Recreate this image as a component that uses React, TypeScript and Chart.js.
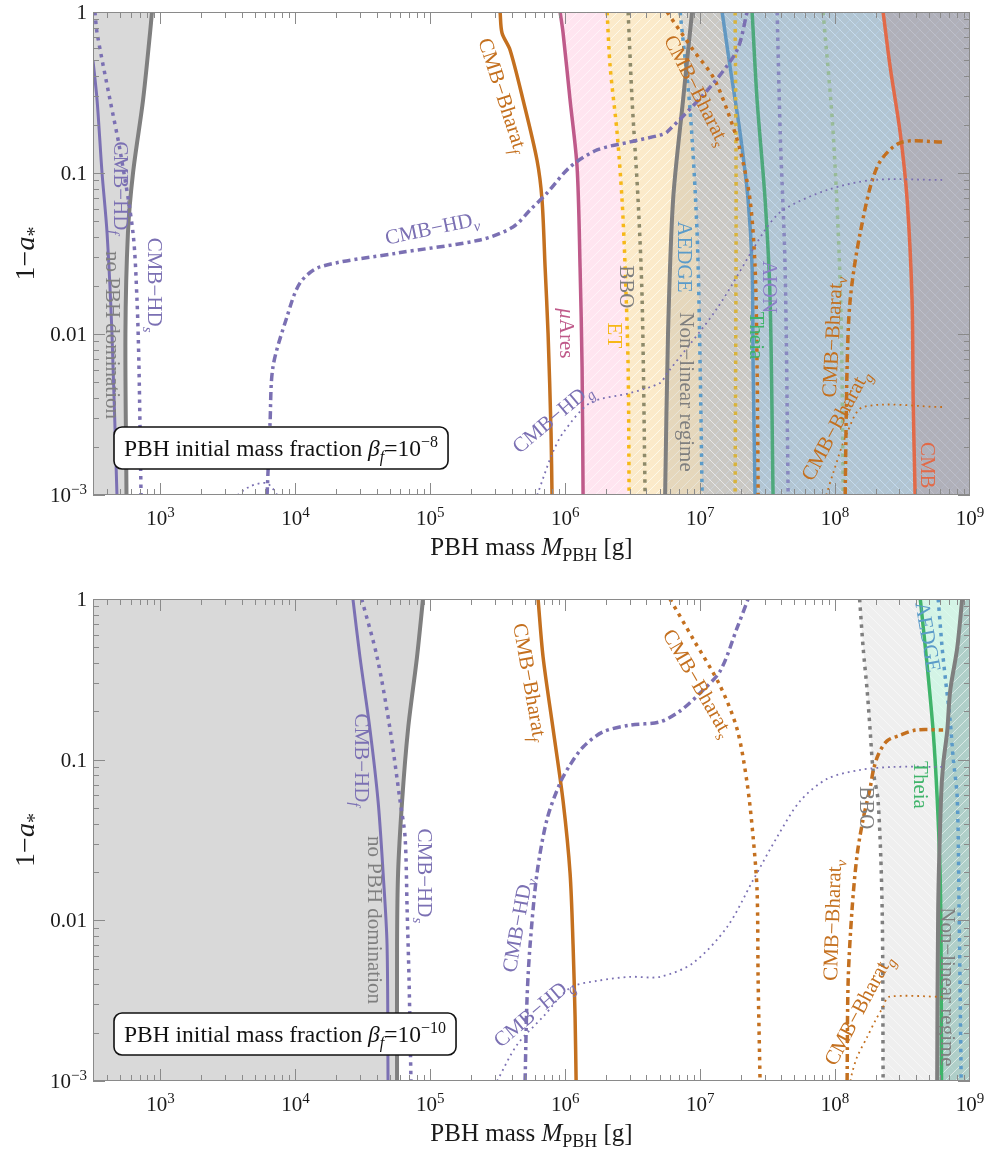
import React, { useEffect, useRef } from 'react';
import { Chart, registerables } from 'chart.js';

Chart.register(...registerables);

type Pt = [number, number];

const FONT = "'Liberation Serif', 'Times New Roman', Times, serif";

// ---------- axes ----------
const X_MIN = 316.23;
const X_MAX = 1e9;
const Y_MIN = 1e-3;
const Y_MAX = 1;
const X_TICKS = [1e3, 1e4, 1e5, 1e6, 1e7, 1e8, 1e9];
const X_TICK_EXP = ['3', '4', '5', '6', '7', '8', '9'];
const Y_TICKS = [1, 0.1, 0.01, 0.001];
const Y_TICK_TEXT = ['1', '0.1', '0.01', '10'];
const Y_TICK_EXP = ['', '', '', '−3'];
const BETA_EXP_TOP = '−8';
const BETA_EXP_BOTTOM = '−10';
const FILL_RIGHT_EDGE = 1e11;
const FILL_LEFT_EDGE = 10;

// ---------- top panel data (beta_f = 1e-8), [M_PBH (g), 1-a*] ----------
const T_NOPBH: Pt[] = [[865, 1], [837, 0.741], [743, 0.284], [626, 0.1], [574, 0.0424], [550, 0.0101], [560, 0.001]];
const T_HD_F: Pt[] = [[290, 1], [316, 0.503], [339, 0.284], [369, 0.1], [402, 0.0424], [437, 0.0101], [476, 0.001]];
const T_HD_S: Pt[] = [[327, 1], [339, 0.741], [423, 0.284], [501, 0.139], [626, 0.0424], [670, 0.0163], [693, 0.00624], [718, 0.001]];
const T_HD_NU: Pt[] = [[6170, 0.001], [6490, 0.0028], [6820, 0.00624], [8670, 0.0128], [10800, 0.0207], [15200, 0.0261], [56700, 0.0318], [234000, 0.0384], [410000, 0.0462], [549000, 0.0589], [733000, 0.0751], [1.086e6, 0.109], [1.722e6, 0.139], [3.025e6, 0.156], [5.05e6, 0.172], [5.69e6, 0.18], [1.185e7, 0.342], [1.878e7, 0.581], [2.228e7, 1]];
const T_HD_G: Pt[] = [[620000, 0.001], [800000, 0.0018], [964000, 0.00243], [1.528e6, 0.00373], [3.025e6, 0.0043], [5.05e6, 0.00496], [5.6e6, 0.0056], [1.34e7, 0.0145], [3.03e7, 0.0443], [4.12e7, 0.0589], [8.73e7, 0.0784], [1.916e8, 0.0905], [6.32e8, 0.0905]];
const T_HD_G_LOW: Pt[] = [[3450, 0.00095], [4610, 0.00113], [6170, 0.00118], [7690, 0.00095]];
const T_BHARAT_F: Pt[] = [[329000, 1], [340000, 0.741], [390000, 0.581], [487000, 0.284], [618000, 0.12], [673000, 0.068], [709000, 0.0261], [746000, 0.0101], [785000, 0.00243], [798000, 0.001]];
const T_MUARES: Pt[] = [[916000, 1], [964000, 0.741], [1.086e6, 0.284], [1.224e6, 0.109], [1.288e6, 0.0261], [1.333e6, 0.00624], [1.356e6, 0.001]];
const T_ET: Pt[] = [[2.043e6, 1], [2.153e6, 0.455], [2.424e6, 0.177], [2.637e6, 0.068], [2.778e6, 0.0261], [2.925e6, 0.00624], [2.974e6, 0.001]];
const T_BBO: Pt[] = [[2.925e6, 1], [3.13e6, 0.284], [3.467e6, 0.068], [3.715e6, 0.0163], [3.908e6, 0.001]];
const T_NONLIN: Pt[] = [[8.71e6, 1], [7.47e6, 0.284], [6.3e6, 0.068], [5.78e6, 0.0101], [5.5e6, 0.001]];
const T_BHARAT_S: Pt[] = [[5.69e6, 1], [8.87e6, 0.581], [1.247e7, 0.395], [1.585e7, 0.246], [1.977e7, 0.139], [2.344e7, 0.068], [2.553e7, 0.0261], [2.642e7, 0.00624], [2.69e7, 0.001]];
const T_AEDGE: Pt[] = [[7.1e6, 1], [8.42e6, 0.246], [9.49e6, 0.0424], [1.0e7, 0.00624], [1.034e7, 0.001]];
const T_GOLD2: Pt[] = [[1.816e7, 1], [1.847e7, 0.068], [1.816e7, 0.001]];
const T_BLUE2: Pt[] = [[1.455e7, 1], [1.667e7, 0.455], [1.977e7, 0.177], [2.266e7, 0.068], [2.427e7, 0.0261], [2.469e7, 0.00624], [2.553e7, 0.001]];
const T_THEIA: Pt[] = [[2.427e7, 1], [2.642e7, 0.284], [3.03e7, 0.068], [3.3e7, 0.0163], [3.47e7, 0.001]];
const T_AION: Pt[] = [[3.72e7, 1], [3.92e7, 0.177], [4.26e7, 0.0261], [4.49e7, 0.001]];
const T_SAGE: Pt[] = [[8.15e7, 1], [9.68e7, 0.177], [1.1e8, 0.0163], [1.15e8, 0.001]];
const T_BHARAT_NU: Pt[] = [[1.188e8, 0.001], [1.228e8, 0.00624], [1.294e8, 0.0163], [1.535e8, 0.0424], [2.05e8, 0.109], [3.04e8, 0.154], [6.32e8, 0.156]];
const T_BHARAT_G: Pt[] = [[8.6e7, 0.001], [9.68e7, 0.00137], [1.228e8, 0.00243], [1.615e8, 0.00352], [6.32e8, 0.00352]];
const T_CMB: Pt[] = [[2.27e8, 1], [2.56e8, 0.455], [3.04e8, 0.177], [3.42e8, 0.068], [3.72e8, 0.0163], [3.79e8, 0.00389], [3.92e8, 0.001]];

// ---------- bottom panel data (beta_f = 1e-10) ----------
const B_NOPBH: Pt[] = [[88300, 1], [79700, 0.436], [68400, 0.155], [61800, 0.0553], [57700, 0.0197], [56700, 0.00703], [56700, 0.001]];
const B_HD_F: Pt[] = [[26700, 1], [30100, 0.436], [35700, 0.155], [41000, 0.0553], [44700, 0.0197], [47800, 0.00703], [48600, 0.001]];
const B_HD_S: Pt[] = [[31000, 1], [40300, 0.436], [50300, 0.155], [59700, 0.0553], [65000, 0.033], [67300, 0.0118], [69600, 0.0042], [71900, 0.001]];
const B_BHARAT_F: Pt[] = [[629000, 1], [685000, 0.436], [813000, 0.155], [964000, 0.0553], [1.086e6, 0.0197], [1.143e6, 0.00703], [1.183e6, 0.0025], [1.204e6, 0.001]];
const B_HD_NU: Pt[] = [[504000, 0.001], [521000, 0.00324], [549000, 0.00703], [618000, 0.0197], [734000, 0.0428], [916000, 0.0716], [1.086e6, 0.0927], [1.356e6, 0.12], [1.908e6, 0.149], [3.025e6, 0.164], [5.05e6, 0.172], [7.1e6, 0.201], [1.0e7, 0.26], [1.406e7, 0.356], [1.878e7, 0.66], [2.266e7, 1]];
const B_HD_G: Pt[] = [[312600, 0.001], [439600, 0.00168], [685000, 0.00251], [1.086e6, 0.0038], [1.722e6, 0.0042], [3.025e6, 0.00445], [5.05e6, 0.00445], [8.87e6, 0.00543], [1.585e7, 0.0091], [2.469e7, 0.0178], [3.72e7, 0.033], [5.51e7, 0.0553], [8.73e7, 0.0759], [1.535e8, 0.0863], [2.69e8, 0.0901], [6.32e8, 0.0901]];
const B_BHARAT_S: Pt[] = [[5.98e6, 1], [8.87e6, 0.564], [1.406e7, 0.288], [1.878e7, 0.155], [2.228e7, 0.0716], [2.469e7, 0.033], [2.642e7, 0.0152], [2.69e7, 0.0042], [2.78e7, 0.001]];
const B_BBO: Pt[] = [[1.52e8, 1], [1.615e8, 0.495], [1.73e8, 0.268], [1.82e8, 0.151], [1.916e8, 0.085], [2.085e8, 0.0553], [2.233e8, 0.0118], [2.27e8, 0.001]];
const B_BHARAT_NU: Pt[] = [[1.228e8, 0.001], [1.25e8, 0.0042], [1.337e8, 0.0118], [1.456e8, 0.0255], [1.615e8, 0.0428], [1.82e8, 0.0667], [1.916e8, 0.085], [2.085e8, 0.107], [2.43e8, 0.131], [3.04e8, 0.142], [4.0e8, 0.153], [6.32e8, 0.153]];
const B_BHARAT_G: Pt[] = [[1.3e8, 0.001], [1.337e8, 0.00112], [1.456e8, 0.00141], [1.73e8, 0.00188], [2.0e8, 0.0024], [2.27e8, 0.00289], [2.5e8, 0.00334], [6.32e8, 0.00334]];
const B_THEIA: Pt[] = [[4.28e8, 1], [4.81e8, 0.388], [5.33e8, 0.151], [5.71e8, 0.0578], [6.0e8, 0.0197], [6.1e8, 0.00703], [6.15e8, 0.001]];
const B_NONLIN: Pt[] = [[8.75e8, 1], [8.04e8, 0.495], [7.13e8, 0.268], [6.78e8, 0.151], [6.32e8, 0.0927], [6.1e8, 0.0578], [5.81e8, 0.0118], [5.71e8, 0.001]];
const B_AEDGE: Pt[] = [[5.81e8, 1], [6.22e8, 0.495], [6.6e8, 0.309], [7.13e8, 0.174], [7.5e8, 0.103], [8.04e8, 0.0578], [8.3e8, 0.0118], [8.6e8, 0.001]];

// ---------- styles ----------
const PURPLE = '#7b70b3';
const GRAY = '#7f7f7f';
const ORANGE = '#c4701f';
const PINK = '#bf5a8a';
const GOLD = '#f6b817';
const OLIVE = '#8e8a6a';
const BLUE = '#5b9bc9';
const GOLD2 = '#d8b33c';
const BLUE2 = '#6298c2';
const GREEN = '#4ea97c';
const GREEN_B = '#3fb46a';
const LAVENDER = '#8888c0';
const SAGE = '#98bb98';
const RED = '#e26a48';
const DOT = [3.5, 5];
const DASHDOT = [8, 4, 3, 4];
const FINE = [1.8, 4];

interface Spec {
  data: Pt[];
  color: string;
  width: number;
  dash?: number[];
}

interface FillSpec {
  data: Pt[];
  side: 'left' | 'right';
  color: string;
  hatchDir: '/' | '\\' | '';
}

interface Part { t: string; it?: boolean; sub?: boolean; sup?: boolean }
interface Label { parts: Part[]; m: number; v: number; rot: number; color: string }

const HD = (s: string): Part[] => [{ t: 'CMB−HD' }, { t: s, it: true, sub: true }];
const BH = (s: string): Part[] => [{ t: 'CMB−Bharat' }, { t: s, it: true, sub: true }];

const TOP_LABELS: Label[] = [
  { parts: HD('f'), m: 510, v: 0.0807, rot: 90, color: PURPLE },
  { parts: [{ t: 'no PBH domination' }], m: 445, v: 0.00986, rot: 90, color: GRAY },
  { parts: HD('s'), m: 912, v: 0.0201, rot: 90, color: PURPLE },
  { parts: HD('ν'), m: 103000, v: 0.0455, rot: -12, color: PURPLE },
  { parts: BH('f'), m: 346000, v: 0.305, rot: 72, color: ORANGE },
  { parts: [{ t: 'μ', it: true }, { t: 'Ares' }], m: 1.03e6, v: 0.0101, rot: 90, color: PINK },
  { parts: [{ t: 'BBO' }], m: 2.88e6, v: 0.0196, rot: 90, color: GRAY },
  { parts: [{ t: 'ET' }], m: 2.34e6, v: 0.0098, rot: 90, color: GOLD },
  { parts: HD('g'), m: 798000, v: 0.00301, rot: -40, color: PURPLE },
  { parts: [{ t: 'AEDGE' }], m: 7.73e6, v: 0.0301, rot: 90, color: BLUE },
  { parts: [{ t: 'Non−linear regime' }], m: 8.0e6, v: 0.00436, rot: 90, color: GRAY },
  { parts: BH('s'), m: 9.49e6, v: 0.328, rot: 63, color: ORANGE },
  { parts: [{ t: 'AION' }], m: 3.3e7, v: 0.0196, rot: 90, color: '#8d7fc8' },
  { parts: [{ t: 'Theia' }], m: 2.64e7, v: 0.0098, rot: 90, color: GREEN_B },
  { parts: BH('ν'), m: 9.5e7, v: 0.00958, rot: -87, color: ORANGE },
  { parts: BH('g'), m: 1.0e8, v: 0.00272, rot: -62, color: ORANGE },
  { parts: [{ t: 'CMB' }], m: 4.9e8, v: 0.00153, rot: 90, color: RED },
];

const BOTTOM_LABELS: Label[] = [
  { parts: HD('f'), m: 31200, v: 0.0995, rot: 90, color: PURPLE },
  { parts: [{ t: 'no PBH domination' }], m: 38900, v: 0.01005, rot: 90, color: GRAY },
  { parts: HD('s'), m: 91400, v: 0.0189, rot: 90, color: PURPLE },
  { parts: BH('f'), m: 549000, v: 0.305, rot: 80, color: ORANGE },
  { parts: HD('ν'), m: 440000, v: 0.00936, rot: -80, color: PURPLE },
  { parts: HD('g'), m: 578000, v: 0.00269, rot: -40, color: PURPLE },
  { parts: BH('s'), m: 9.66e6, v: 0.3, rot: 60, color: ORANGE },
  { parts: BH('ν'), m: 9.5e7, v: 0.01, rot: -88, color: ORANGE },
  { parts: BH('g'), m: 1.48e8, v: 0.00277, rot: -62, color: ORANGE },
  { parts: [{ t: 'BBO' }], m: 1.73e8, v: 0.0501, rot: 90, color: GRAY },
  { parts: [{ t: 'Theia' }], m: 4.35e8, v: 0.0696, rot: 90, color: GREEN_B },
  { parts: [{ t: 'AEDGE' }], m: 4.9e8, v: 0.58, rot: 80, color: BLUE },
  { parts: [{ t: 'Non−linear regime' }], m: 6.89e8, v: 0.00385, rot: 90, color: GRAY },
];

// lines (first = drawn on top)
const topLines = (): Spec[] => [
  { data: T_HD_F, color: PURPLE, width: 3 },
  { data: T_HD_S, color: PURPLE, width: 3.5, dash: DOT },
  { data: T_HD_NU, color: PURPLE, width: 3.5, dash: DASHDOT },
  { data: T_HD_G, color: PURPLE, width: 1.8, dash: FINE },
  { data: T_HD_G_LOW, color: PURPLE, width: 1.8, dash: FINE },
  { data: T_BHARAT_F, color: ORANGE, width: 3.5 },
  { data: T_BHARAT_S, color: ORANGE, width: 3.5, dash: DOT },
  { data: T_BHARAT_NU, color: ORANGE, width: 3.5, dash: DASHDOT },
  { data: T_BHARAT_G, color: ORANGE, width: 1.8, dash: FINE },
  { data: T_NOPBH, color: GRAY, width: 4 },
  { data: T_MUARES, color: PINK, width: 3.5 },
  { data: T_ET, color: GOLD, width: 3.5, dash: DOT },
  { data: T_BBO, color: OLIVE, width: 3.5, dash: DOT },
  { data: T_NONLIN, color: GRAY, width: 4 },
  { data: T_AEDGE, color: BLUE, width: 3.5, dash: DOT },
  { data: T_GOLD2, color: GOLD2, width: 3.5, dash: DOT },
  { data: T_BLUE2, color: BLUE2, width: 3.5 },
  { data: T_THEIA, color: GREEN, width: 3.5 },
  { data: T_AION, color: LAVENDER, width: 3.5, dash: DOT },
  { data: T_SAGE, color: SAGE, width: 3.5, dash: DOT },
  { data: T_CMB, color: RED, width: 3.5 },
];

// shaded regions, painted in this order (first = lowest)
const topFills = (): FillSpec[] => [
  { data: T_NOPBH, side: 'left', color: '#d9d9d9', hatchDir: '' },
  { data: T_MUARES, side: 'right', color: 'rgba(255,175,210,0.33)', hatchDir: '/' },
  { data: T_ET, side: 'right', color: 'rgba(242,242,130,0.34)', hatchDir: '/' },
  { data: T_NONLIN, side: 'right', color: 'rgba(120,120,120,0.16)', hatchDir: '' },
  { data: T_AEDGE, side: 'right', color: 'rgba(110,150,225,0.22)', hatchDir: '\\' },
  { data: T_BLUE2, side: 'right', color: 'rgba(110,190,255,0.26)', hatchDir: '' },
  { data: T_CMB, side: 'right', color: 'rgba(175,140,140,0.36)', hatchDir: '' },
];

const bottomLines = (): Spec[] => [
  { data: B_HD_F, color: PURPLE, width: 3 },
  { data: B_HD_S, color: PURPLE, width: 3.5, dash: DOT },
  { data: B_HD_NU, color: PURPLE, width: 3.5, dash: DASHDOT },
  { data: B_HD_G, color: PURPLE, width: 1.8, dash: FINE },
  { data: B_BHARAT_F, color: ORANGE, width: 3.5 },
  { data: B_BHARAT_S, color: ORANGE, width: 3.5, dash: DOT },
  { data: B_BHARAT_NU, color: ORANGE, width: 3.5, dash: DASHDOT },
  { data: B_BHARAT_G, color: ORANGE, width: 1.8, dash: FINE },
  { data: B_NOPBH, color: GRAY, width: 4 },
  { data: B_BBO, color: GRAY, width: 3.5, dash: DOT },
  { data: B_NONLIN, color: GRAY, width: 4 },
  { data: B_THEIA, color: GREEN_B, width: 3.5 },
  { data: B_AEDGE, color: BLUE, width: 3.5, dash: DOT },
];

const bottomFills = (): FillSpec[] => [
  { data: B_NOPBH, side: 'left', color: '#d9d9d9', hatchDir: '' },
  { data: B_BBO, side: 'right', color: 'rgba(205,205,205,0.32)', hatchDir: '\\' },
  { data: B_THEIA, side: 'right', color: 'rgba(150,255,210,0.3)', hatchDir: '' },
  { data: B_NONLIN, side: 'right', color: 'rgba(100,130,140,0.33)', hatchDir: '/' },
];

// ---------- helpers ----------
function hatch(base: string, dir: '/' | '\\' | '', spacing = 10): CanvasPattern | string {
  if (!dir) return base;
  const c = document.createElement('canvas');
  c.width = spacing;
  c.height = spacing;
  const g = c.getContext('2d')!;
  g.fillStyle = base;
  g.fillRect(0, 0, spacing, spacing);
  g.strokeStyle = 'rgba(255,255,255,0.55)';
  g.lineWidth = 1;
  g.beginPath();
  if (dir === '/') {
    g.moveTo(-2, spacing + 2); g.lineTo(spacing + 2, -2);
    g.moveTo(-2, 2); g.lineTo(2, -2);
    g.moveTo(spacing - 2, spacing + 2); g.lineTo(spacing + 2, spacing - 2);
  } else {
    g.moveTo(-2, -2); g.lineTo(spacing + 2, spacing + 2);
    g.moveTo(spacing - 2, -2); g.lineTo(spacing + 2, 2);
    g.moveTo(-2, spacing - 2); g.lineTo(2, spacing + 2);
  }
  g.stroke();
  return g.createPattern(c, 'repeat') || base;
}

function lineDataset(s: Spec): any {
  return {
    data: s.data.map(([x, y]) => ({ x, y })),
    borderColor: s.color,
    borderWidth: s.width,
    borderDash: s.dash || [],
    borderCapStyle: 'butt',
    pointRadius: 0,
    tension: 0.3,
    clip: 0,
    fill: false,
  };
}

function fillDataset(f: FillSpec): any {
  return {
    data: f.data.map(([x, y]) => ({ x, y })),
    indexAxis: 'y',
    borderWidth: 0,
    borderColor: 'rgba(0,0,0,0)',
    pointRadius: 0,
    tension: 0.3,
    clip: 0,
    fill: { value: f.side === 'right' ? FILL_RIGHT_EDGE : FILL_LEFT_EDGE },
    backgroundColor: hatch(f.color, f.hatchDir),
  };
}

function fontFor(p: Part, size: number) {
  const sz = p.sub || p.sup ? Math.round(size * 0.7) : size;
  return `${p.it ? 'italic ' : ''}${sz}px ${FONT}`;
}

function richWidth(ctx: CanvasRenderingContext2D, parts: Part[], size: number) {
  let w = 0;
  for (const p of parts) {
    ctx.font = fontFor(p, size);
    w += ctx.measureText(p.t).width;
  }
  return w;
}

function drawRich(
  ctx: CanvasRenderingContext2D, parts: Part[], x: number, y: number, size: number,
  color: string, align: 'left' | 'center' | 'right', rot = 0, vcenter = false,
) {
  const total = richWidth(ctx, parts, size);
  ctx.save();
  ctx.translate(x, y);
  if (rot) ctx.rotate((rot * Math.PI) / 180);
  ctx.fillStyle = color;
  ctx.textBaseline = 'alphabetic';
  ctx.textAlign = 'left';
  let cx = align === 'center' ? -total / 2 : align === 'right' ? -total : 0;
  const base = vcenter ? size * 0.33 : 0;
  for (const p of parts) {
    ctx.font = fontFor(p, size);
    const dy = p.sub ? size * 0.25 : p.sup ? -size * 0.4 : 0;
    ctx.fillText(p.t, cx, base + dy);
    cx += ctx.measureText(p.t).width;
  }
  ctx.restore();
}

interface Panel {
  lines: () => Spec[];
  fills: () => FillSpec[];
  labels: Label[];
  betaExp: string;
  padTop: number;
  padBottom: number;
}

function decorPlugin(panel: Panel) {
  return {
    id: 'decor',
    afterDatasetsDraw(chart: any) {
      const ctx: CanvasRenderingContext2D = chart.ctx;
      const a = chart.chartArea;
      const xs = chart.scales.x;
      const ys = chart.scales.y;
      ctx.save();
      ctx.beginPath();
      ctx.rect(a.left, a.top, a.right - a.left, a.bottom - a.top);
      ctx.clip();
      for (const L of panel.labels) {
        drawRich(ctx, L.parts, xs.getPixelForValue(L.m), ys.getPixelForValue(L.v), 21, L.color, 'center', L.rot, true);
      }
      ctx.restore();

      // legend box
      ctx.save();
      const legParts: Part[] = [
        { t: 'PBH initial mass fraction ' }, { t: 'β', it: true }, { t: 'f', it: true, sub: true },
        { t: '=10' }, { t: panel.betaExp, sup: true },
      ];
      const LS = 23.5;
      const lw = richWidth(ctx, legParts, LS);
      const bx = a.left + 21, by = a.bottom - 68, bw = lw + 20, bh = 42;
      ctx.beginPath();
      (ctx as any).roundRect(bx, by, bw, bh, 8);
      ctx.fillStyle = '#ffffff';
      ctx.fill();
      ctx.lineWidth = 1.6;
      ctx.strokeStyle = '#111';
      ctx.stroke();
      drawRich(ctx, legParts, bx + 10, by + 29, LS, '#111', 'left');
      ctx.restore();

      // frame & ticks
      ctx.save();
      ctx.strokeStyle = '#8a8a8a';
      ctx.lineWidth = 1;
      ctx.strokeRect(a.left + 0.5, a.top + 0.5, a.right - a.left - 1, a.bottom - a.top - 1);
      ctx.beginPath();
      const MAJ = 12, MIN = 6;
      for (let e = 2; e <= 8; e++) {
        for (let k = 1; k <= 9; k++) {
          const v = k * Math.pow(10, e);
          if (v < X_MIN || v > X_MAX) continue;
          const px = Math.round(xs.getPixelForValue(v)) + 0.5;
          const len = k === 1 ? MAJ : MIN;
          ctx.moveTo(px, a.bottom); ctx.lineTo(px, a.bottom - len);
          ctx.moveTo(px, a.top); ctx.lineTo(px, a.top + len);
        }
      }
      for (let e = -3; e <= -1; e++) {
        for (let k = 1; k <= 9; k++) {
          const v = k * Math.pow(10, e);
          const py = Math.round(ys.getPixelForValue(v)) + 0.5;
          const len = k === 1 ? MAJ : MIN;
          ctx.moveTo(a.left, py); ctx.lineTo(a.left + len, py);
          ctx.moveTo(a.right, py); ctx.lineTo(a.right - len, py);
        }
      }
      ctx.stroke();

      X_TICKS.forEach((v, i) => {
        drawRich(ctx, [{ t: '10' }, { t: X_TICK_EXP[i], sup: true }], xs.getPixelForValue(v), a.bottom + 30, 21, '#1a1a1a', 'center');
      });
      Y_TICKS.forEach((v, i) => {
        const parts: Part[] = [{ t: Y_TICK_TEXT[i] }];
        if (Y_TICK_EXP[i]) parts.push({ t: Y_TICK_EXP[i], sup: true });
        drawRich(ctx, parts, a.left - 6, ys.getPixelForValue(v) + 7, 21, '#1a1a1a', 'right');
      });

      drawRich(ctx, [{ t: 'PBH mass ' }, { t: 'M', it: true }, { t: 'PBH', sub: true }, { t: ' [g]' }],
        (a.left + a.right) / 2, a.bottom + 60, 25, '#1a1a1a', 'center');
      drawRich(ctx, [{ t: '1−' }, { t: 'a', it: true }, { t: '*', sub: true }],
        34, (a.top + a.bottom) / 2, 28, '#1a1a1a', 'center', -90);
      ctx.restore();
    },
  };
}

function makeConfig(panel: Panel): any {
  const lineSets = panel.lines().map(lineDataset);
  // filler paints from the last dataset to the first, so reverse the paint order
  const fillSets = panel.fills().map(fillDataset).reverse();
  return {
    type: 'line',
    data: { datasets: [...lineSets, ...fillSets] },
    options: {
      animation: false,
      responsive: false,
      events: [],
      layout: { padding: { left: 93, right: 20, top: panel.padTop, bottom: panel.padBottom } },
      scales: {
        x: { type: 'logarithmic', min: X_MIN, max: X_MAX, display: false },
        y: { type: 'logarithmic', min: Y_MIN, max: Y_MAX, display: false },
      },
      plugins: {
        legend: { display: false },
        tooltip: { enabled: false },
        filler: { drawTime: 'beforeDatasetsDraw' },
      },
    },
    plugins: [decorPlugin(panel)],
  };
}

const TOP_PANEL: Panel = { lines: topLines, fills: topFills, labels: TOP_LABELS, betaExp: BETA_EXP_TOP, padTop: 12, padBottom: 81 };
const BOTTOM_PANEL: Panel = { lines: bottomLines, fills: bottomFills, labels: BOTTOM_LABELS, betaExp: BETA_EXP_BOTTOM, padTop: 23, padBottom: 70 };

export default function App() {
  const topRef = useRef<HTMLCanvasElement>(null);
  const botRef = useRef<HTMLCanvasElement>(null);
  useEffect(() => {
    const c1 = new Chart(topRef.current!, makeConfig(TOP_PANEL));
    const c2 = new Chart(botRef.current!, makeConfig(BOTTOM_PANEL));
    return () => {
      c1.destroy();
      c2.destroy();
    };
  }, []);
  return (
    <div style={{ position: 'absolute', left: 0, top: 0, width: 990, height: 1151, background: '#ffffff', overflow: 'hidden' }}>
      <canvas ref={topRef} width={990} height={576} style={{ position: 'absolute', left: 0, top: 0, width: 990, height: 576 }} />
      <canvas ref={botRef} width={990} height={575} style={{ position: 'absolute', left: 0, top: 576, width: 990, height: 575 }} />
    </div>
  );
}
